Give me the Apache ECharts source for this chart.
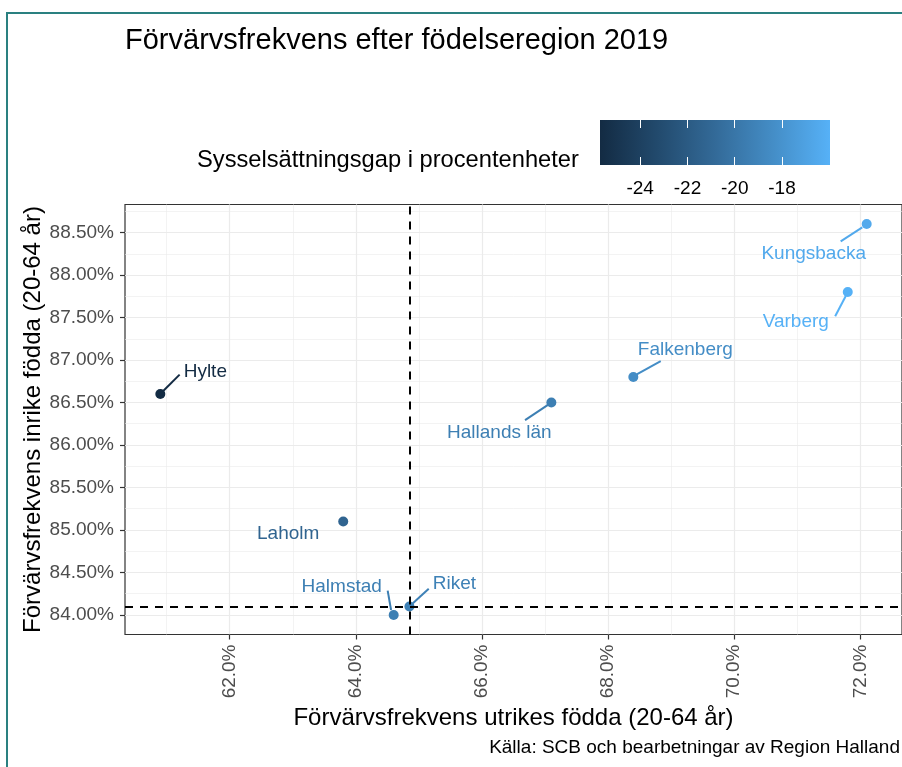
<!DOCTYPE html>
<html>
<head>
<meta charset="utf-8">
<script src="https://cdn.jsdelivr.net/npm/echarts@6/dist/echarts.min.js"></script>
<style>
html,body{margin:0;padding:0;background:#fff;}
#chart{width:902px;height:767px;}
</style>
</head>
<body>
<div id="chart"></div>
<script>
// ---- data ----
const regions = ['Hylte', 'Laholm', 'Halmstad', 'Riket', 'Hallands län', 'Falkenberg', 'Varberg', 'Kungsbacka'];
const utrikes = [60.9, 63.8, 64.6, 64.85, 67.1, 68.4, 71.8, 72.1];
const inrike  = [86.6, 85.1, 84.0, 84.1, 86.5, 86.8, 87.8, 88.6];
const gap     = [-25.7, -21.3, -19.4, -19.25, -19.4, -18.4, -16.0, -16.5];
const riketX = 64.85;
const riketY = 84.1;
const xTicks = [62, 64, 66, 68, 70, 72];
const xMinor = [61, 63, 65, 67, 69, 71];
const yTicks = [84, 84.5, 85, 85.5, 86, 86.5, 87, 87.5, 88, 88.5];
const yMinor = [84.25, 84.75, 85.25, 85.75, 86.25, 86.75, 87.25, 87.75, 88.25, 88.75];
const gapTicks = [-24, -22, -20, -18];
const gapMin = -25.7, gapMax = -15.97;

// ---- styles / label placement (pixel offsets from each point) ----
const labelOffsets = [[45,-22],[-55,12],[-52,-28],[45,-23],[-52,30],[52,-27],[-52,30],[-53,30]];
// leader segment: [startDx, startDy, endDx, endDy]; null = no segment
const leaderSegs = [
  [2.6, -2.7, 19.3, -19.4],
  null,
  [-2.6, -5, -6, -24.3],
  [2.6, -2.4, 19.3, -17.7],
  [-2.3, 1.6, -26.3, 17.6],
  [3.4, -2.7, 27.4, -16],
  [-1.6, 3.3, -12.6, 24.3],
  [-4.4, 3.4, -26, 17.4]
];
const gradColors = ['#132B43', '#224A6D', '#336A98', '#448DC6', '#56B1F7'];
const FONT = 'Liberation Sans, Arial, sans-serif';

const chart = echarts.init(document.getElementById('chart'), null, {renderer: 'canvas'});

const pts = regions.map((r, i) => ({name: r, value: [utrikes[i], inrike[i], gap[i]]}));

const option = {
  animation: false,
  backgroundColor: '#ffffff',
  textStyle: {fontFamily: FONT},
  title: {
    text: 'Förvärvsfrekvens efter födelseregion 2019',
    left: 125, top: 26, padding: 0,
    textStyle: {fontSize: 29, fontWeight: 'normal', color: '#000', fontFamily: FONT}
  },
  visualMap: {
    type: 'continuous', show: false, dimension: 2, seriesIndex: [0, 1],
    min: gapMin, max: gapMax,
    inRange: {color: gradColors}
  },
  grid: [
    {left: 125, right: -1.4, top: 204.5, bottom: 132.5, show: true, borderColor: '#333333', borderWidth: 1.2, backgroundColor: 'transparent', containLabel: false},
    {left: 600, top: 120, width: 230, height: 45, show: false}
  ],
  xAxis: [
    {
      gridIndex: 0, type: 'value', min: 60.34, max: 72.66,
      axisLine: {show: false},
      splitLine: {show: false},
      axisTick: {show: true, customValues: xTicks, length: 5, lineStyle: {color: '#333', width: 1.2}},
      axisLabel: {customValues: xTicks, rotate: 90, margin: 10, fontSize: 19, color: '#4D4D4D', fontFamily: FONT,
        formatter: v => v.toFixed(1) + '%'},
      name: 'Förvärvsfrekvens utrikes födda (20-64 år)',
      nameLocation: 'middle', nameGap: 71,
      nameTextStyle: {fontSize: 24, color: '#000', fontFamily: FONT}
    },
    {
      gridIndex: 1, type: 'value', min: gapMin, max: gapMax, position: 'bottom', z: 10,
      axisLine: {show: false}, splitLine: {show: false},
      axisTick: {show: true, inside: true, customValues: gapTicks, length: 8, lineStyle: {color: '#ffffff', width: 1}},
      axisLabel: {customValues: gapTicks, margin: 14, fontSize: 19, color: '#000', fontFamily: FONT}
    },
    {
      gridIndex: 1, type: 'value', min: gapMin, max: gapMax, position: 'top', z: 10,
      axisLine: {show: false}, splitLine: {show: false},
      axisTick: {show: true, inside: true, customValues: gapTicks, length: 8, lineStyle: {color: '#ffffff', width: 1}},
      axisLabel: {show: false}
    }
  ],
  yAxis: [
    {
      gridIndex: 0, type: 'value', min: 83.77, max: 88.83,
      axisLine: {show: false},
      splitLine: {show: false},
      axisTick: {show: true, customValues: yTicks, length: 5, lineStyle: {color: '#333', width: 1.2}},
      axisLabel: {customValues: yTicks, margin: 11, fontSize: 19, color: '#4D4D4D', fontFamily: FONT,
        formatter: v => v.toFixed(2) + '%'},
      name: 'Förvärvsfrekvens inrike födda (20-64 år)',
      nameLocation: 'middle', nameGap: 80, nameMoveOverlap: false,
      nameTextStyle: {fontSize: 24, color: '#000', fontFamily: FONT}
    },
    {gridIndex: 1, type: 'value', min: 0, max: 1, show: false}
  ],
  series: [
    {
      type: 'scatter', xAxisIndex: 0, yAxisIndex: 0, z: 3,
      symbolSize: 10,
      itemStyle: {opacity: 1},
      data: pts,
      label: {
        show: true, position: 'inside', formatter: p => p.name,
        color: 'inherit', fontSize: 19, fontFamily: FONT, align: 'center', verticalAlign: 'middle'
      },
      labelLine: {show: false},
      labelLayout: function (params) {
        const o = labelOffsets[params.dataIndex];
        return {dx: o[0], dy: o[1]};
      }
    },
    {
      type: 'custom', xAxisIndex: 0, yAxisIndex: 0, z: 3, silent: true,
      data: pts,
      renderItem: function (params, api) {
        const s = leaderSegs[params.dataIndex];
        if (!s) return null;
        const p = api.coord([api.value(0), api.value(1)]);
        return {
          type: 'line',
          shape: {x1: p[0] + s[0], y1: p[1] + s[1], x2: p[0] + s[2], y2: p[1] + s[3]},
          style: {stroke: api.visual('color'), lineWidth: 2}
        };
      }
    },
    {
      type: 'line', xAxisIndex: 0, yAxisIndex: 0, data: [], z: 1,
      markLine: {
        z: 0, silent: true, symbol: 'none', animation: false,
        label: {show: false},
        lineStyle: {color: '#EBEBEB', width: 0.6, type: 'solid'},
        data: xMinor.map(v => ({xAxis: v})).concat(yMinor.map(v => ({yAxis: v})))
      }
    },
    {
      type: 'line', xAxisIndex: 0, yAxisIndex: 0, data: [], z: 1,
      markLine: {
        z: 0, silent: true, symbol: 'none', animation: false,
        label: {show: false},
        lineStyle: {color: '#EBEBEB', width: 1.2, type: 'solid'},
        data: xTicks.map(v => ({xAxis: v})).concat(yTicks.map(v => ({yAxis: v})))
      }
    },
    {
      type: 'line', xAxisIndex: 0, yAxisIndex: 0, data: [], z: 6,
      markLine: {
        z: 6, silent: true, symbol: 'none', animation: false,
        label: {show: false},
        lineStyle: {color: '#000000', width: 2, type: [8, 7]},
        data: [{xAxis: riketX}, {yAxis: riketY}]
      }
    },
    {type: 'scatter', xAxisIndex: 1, yAxisIndex: 1, data: []}
  ],
  graphic: [
    {
      type: 'rect', z: 1, silent: true,
      shape: {x: 600, y: 120, width: 230, height: 45},
      style: {fill: new echarts.graphic.LinearGradient(0, 0, 1, 0,
        gradColors.map((c, i) => ({offset: i / (gradColors.length - 1), color: c})))}
    },
    {
      type: 'text', z: 1, silent: true, x: 197, y: 160,
      style: {text: 'Sysselsättningsgap i procentenheter', font: '23.7px ' + FONT, fill: '#000',
        textAlign: 'left', textVerticalAlign: 'middle'}
    },
    {
      type: 'text', z: 1, silent: true, x: 900, y: 748,
      style: {text: 'Källa: SCB och bearbetningar av Region Halland', font: '19px ' + FONT, fill: '#000',
        textAlign: 'right', textVerticalAlign: 'middle'}
    },
    {
      type: 'rect', z: 20, silent: true,
      shape: {x: 7, y: 13, width: 1000, height: 1000},
      style: {fill: 'none', stroke: '#2a8080', lineWidth: 2}
    }
  ]
};
chart.setOption(option);
</script>
</body>
</html>
